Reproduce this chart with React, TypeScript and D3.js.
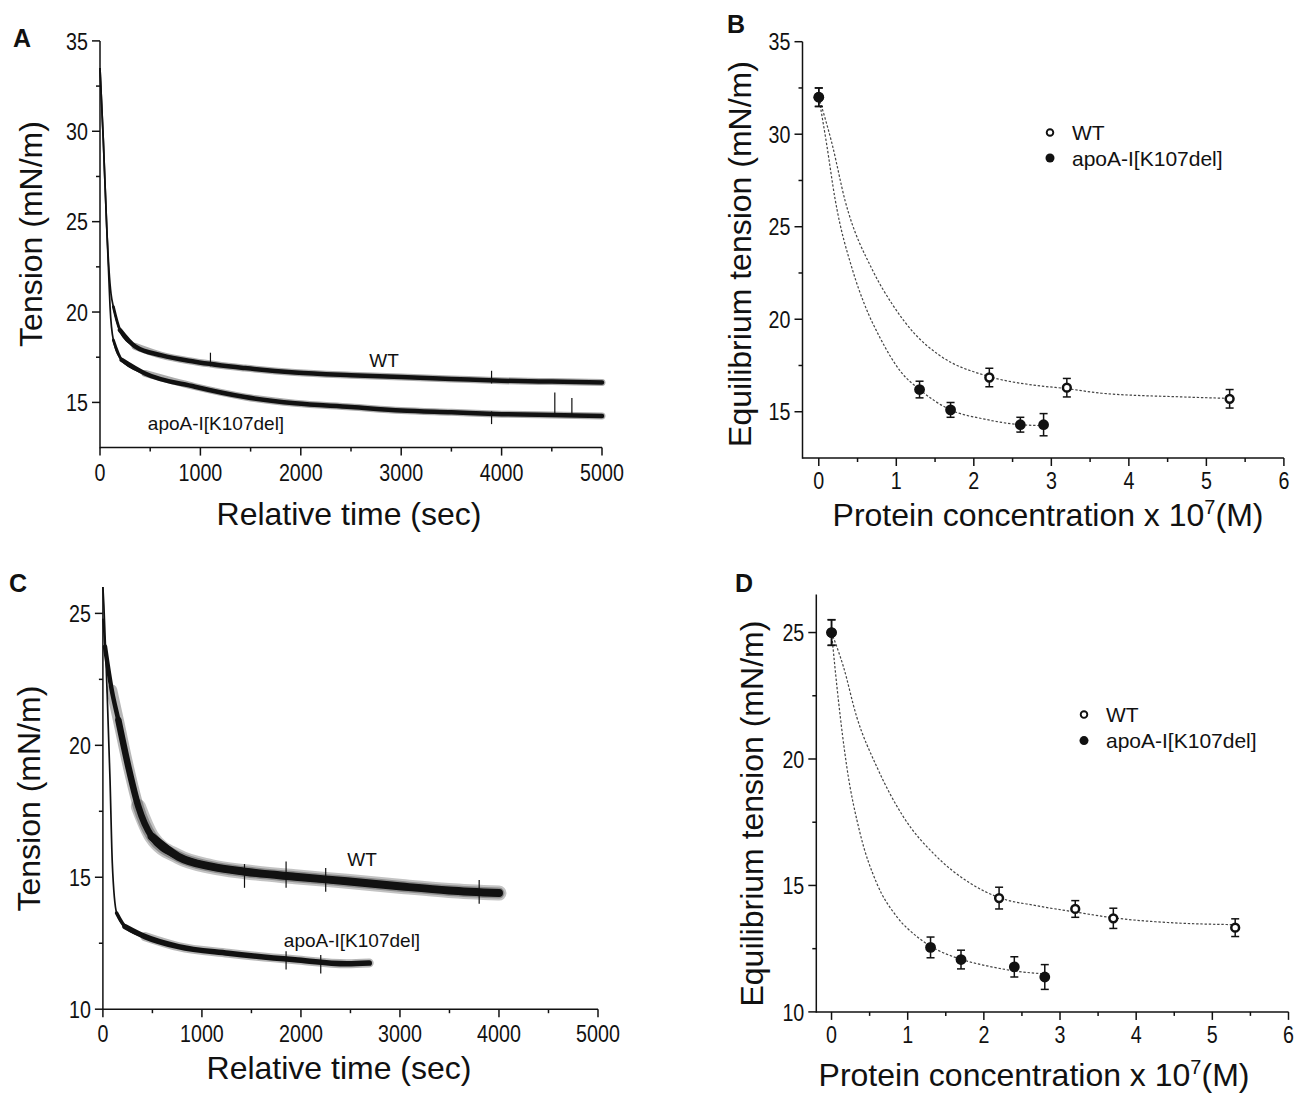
import React from "react";
import * as d3 from "d3";

type Pt = [number, number];

const traceA_WT: Pt[] = [
  [0, 33.5], [33, 29.5], [67, 24.7], [90, 22.3], [110, 21.0], [133, 20.3], [199, 19.0],
  [349, 18.1], [614, 17.6], [946, 17.25], [1444, 16.9], [1942, 16.65], [2500, 16.5],
  [3000, 16.4], [3500, 16.3], [4000, 16.2], [4500, 16.15], [5000, 16.1],
];
const traceA_K107: Pt[] = [
  [0, 33.5], [33, 29.5], [67, 24.7], [85, 22.3], [100, 20.3], [133, 18.45], [216, 17.35],
  [448, 16.6], [946, 15.87], [1444, 15.3], [1942, 14.95], [2500, 14.75], [3000, 14.55],
  [3500, 14.45], [4000, 14.35], [4500, 14.3], [5000, 14.25],
];
// spikes sticking out of the noisy traces: [time, low, high]
const spikesA_WT = [[1100, 17.0, 17.75], [3900, 16.05, 16.75]];
const spikesA_K107 = [[3900, 13.8, 14.5], [4530, 14.3, 15.55], [4700, 14.3, 15.25]];

const traceC_WT: Pt[] = [
  [0, 24.8], [21, 23.74], [89, 22.1], [156, 20.96], [257, 19.19], [358, 17.68], [493, 16.54],
  [762, 15.78], [1099, 15.4], [1435, 15.21], [1940, 15.02], [2465, 14.85], [3020, 14.65],
  [3495, 14.5], [4000, 14.4],
];
const traceC_K107: Pt[] = [
  [0, 26.0], [10, 25.3], [38, 22.48], [72, 18.7], [95, 15.53], [139, 13.64], [223, 13.13],
  [425, 12.75], [762, 12.37], [1267, 12.12], [1940, 11.87], [2465, 11.72], [2690, 11.75],
];
const spikesC_WT = [[1430, 14.6, 15.5], [1850, 14.6, 15.6], [2250, 14.45, 15.35], [3800, 14.0, 14.9]];
const spikesC_K107 = [[1850, 11.5, 12.2], [2200, 11.35, 12.05]];

// ---- equilibrium tension vs protein concentration (x 10^7 M)
const concB_WT = [0, 2.2, 3.2, 5.3];
const tensB_WT = [32.0, 16.85, 16.3, 15.7];
const errB_WT = [0.5, 0.5, 0.5, 0.5];
const concB_K107 = [0, 1.3, 1.7, 2.6, 2.9];
const tensB_K107 = [32.0, 16.2, 15.1, 14.3, 14.3];
const errB_K107 = [0.5, 0.45, 0.4, 0.4, 0.6];

const concD_WT = [0, 2.2, 3.2, 3.7, 5.3];
const tensD_WT = [25.0, 14.5, 14.07, 13.7, 13.33];
const errD_WT = [0.5, 0.43, 0.33, 0.4, 0.35];
const concD_K107 = [0, 1.3, 1.7, 2.4, 2.8];
const tensD_K107 = [25.0, 12.55, 12.07, 11.78, 11.38];
const errD_K107 = [0.51, 0.41, 0.37, 0.4, 0.49];

// fitted decay curves
const fitB_WT: Pt[] = [
  [0, 32], [0.17, 29.5], [0.34, 26.4], [0.7, 22.6], [0.95, 20.8], [1.24, 19.2], [1.54, 18.1],
  [2.2, 16.9], [2.75, 16.45], [3.2, 16.25], [3.65, 16.0], [4.7, 15.8], [5.3, 15.72],
];
const fitB_K107: Pt[] = [
  [0, 32], [0.1, 29.5], [0.21, 26.5], [0.44, 22.6], [0.59, 20.8], [0.79, 19.0], [1.07, 17.1],
  [1.3, 16.2], [1.7, 15.1], [2.14, 14.6], [2.6, 14.3], [2.9, 14.25],
];
const fitD_WT: Pt[] = [
  [0, 25], [0.156, 23.65], [0.33, 21.67], [0.593, 19.7], [0.942, 17.72], [1.38, 16.14],
  [1.82, 15.09], [2.2, 14.52], [2.69, 14.2], [3.2, 13.95], [3.7, 13.72], [4.5, 13.52], [5.3, 13.45],
];
const fitD_K107: Pt[] = [
  [0, 25], [0.09, 22.33], [0.2, 19.7], [0.375, 17.06], [0.593, 15.09], [0.856, 13.77],
  [1.12, 12.98], [1.3, 12.6], [1.7, 12.08], [2.04, 11.82], [2.4, 11.62], [2.8, 11.5],
];

const timeTicks = [0, 1000, 2000, 3000, 4000, 5000];
const concTicks = [0, 1, 2, 3, 4, 5, 6];
const tensionTicksAB = [15, 20, 25, 30, 35];
const tensionTicksCD = [10, 15, 20, 25];
const seriesNames = ["WT", "apoA-I[K107del]"];

const textFont = "'Liberation Sans', Arial, Helvetica, sans-serif";
const ink = "#111";

type Lin = d3.ScaleLinear<number, number>;

// tick numbers in the figure are a condensed face, squeeze a regular one
const Num = ({ x, y, anchor, children, dy }: any) => (
  <text transform={`translate(${x},${y}) scale(0.82,1)`} dy={dy} textAnchor={anchor} stroke="none"
    fill={ink} fontFamily={textFont} fontSize={24}>{children}</text>
);

function Axes({ x, y, xTicks, xMinor, yTicks, yMinor, xLabelDy }: {
  x: Lin; y: Lin; xTicks: number[]; xMinor: number[]; yTicks: number[]; yMinor: number[]; xLabelDy: number;
}) {
  const [x0, x1] = x.range();
  const [y0, y1] = y.range();
  return (
    <g stroke={ink} strokeWidth={1.5}>
      <line x1={x0} x2={x1} y1={y0} y2={y0} />
      <line x1={x0} x2={x0} y1={y0 + 0.75} y2={y1} />
      {xTicks.map(t => (
        <g key={"xt" + t}>
          <line x1={x(t)} x2={x(t)} y1={y0} y2={y0 + 8} />
          <Num x={x(t)} y={y0 + xLabelDy} anchor="middle">{t}</Num>
        </g>
      ))}
      {xMinor.map(t => <line key={"xm" + t} x1={x(t)} x2={x(t)} y1={y0} y2={y0 + 4} />)}
      {yTicks.map(t => (
        <g key={"yt" + t}>
          <line x1={x0 - 8} x2={x0} y1={y(t)} y2={y(t)} />
          <Num x={x0 - 12} y={y(t)} dy="0.36em" anchor="end">{t}</Num>
        </g>
      ))}
      {yMinor.map(t => <line key={"ym" + t} x1={x0 - 4} x2={x0} y1={y(t)} y2={y(t)} />)}
    </g>
  );
}

function Titles({ letter, lx, ly, xTitle, xtx, xty, yTitle, ytx, yty }: any) {
  return (
    <g fill={ink}>
      <text x={lx} y={ly} fontFamily={textFont} fontWeight="bold" fontSize={25}>{letter}</text>
      <text x={xtx} y={xty} textAnchor="middle" fontFamily={textFont} fontSize={32}>{xTitle}</text>
      <text transform={`translate(${ytx},${yty}) rotate(-90)`} dy="0.36em" textAnchor="middle"
        fontFamily={textFont} fontSize={32}>{yTitle}</text>
    </g>
  );
}

function TracePanel({ letter, box, yDomain, yTicks, yMinor, traces, labels, titlePos }: any) {
  const x = d3.scaleLinear().domain([0, 5000]).range([box.left, box.right]);
  const y = d3.scaleLinear().domain(yDomain).range([box.bottom, box.top]);
  const line = d3.line<Pt>().x(d => x(d[0])).y(d => y(d[1])).curve(d3.curveMonotoneX);
  return (
    <g>
      {traces.map((tr: any, i: number) => (
        <g key={i} fill="none" stroke={ink}>
          {(tr.fuzz || []).map(([from, w, op]: number[], j: number) => (
            <path key={"f" + j} d={line(tr.data.filter((d: Pt) => d[0] >= from)) || ""} strokeWidth={w}
              strokeOpacity={op} strokeLinecap="round" strokeLinejoin="round" />
          ))}
          <path d={line(tr.data) || ""} strokeWidth={1.7} />
          {tr.bands.map(([from, w]: number[], j: number) => (
            <path key={j} d={line(tr.data.filter((d: Pt) => d[0] >= from)) || ""} strokeWidth={w}
              strokeLinecap="round" strokeLinejoin="round" />
          ))}
          {tr.spikes.map((s: number[], j: number) => (
            <line key={j} x1={x(s[0])} x2={x(s[0])} y1={y(s[1])} y2={y(s[2])} strokeWidth={1.2} />
          ))}
        </g>
      ))}
      {labels.map((l: any, i: number) => (
        <text key={i} x={l.x} y={l.y} dy="0.36em" textAnchor="middle" fontFamily={textFont}
          fontSize={19} fill={ink}>{l.text}</text>
      ))}
      <Axes x={x} y={y} xTicks={timeTicks} xMinor={d3.range(500, 5000, 1000)}
        yTicks={yTicks} yMinor={yMinor} xLabelDy={33} />
      <Titles letter={letter} {...titlePos} xTitle="Relative time (sec)" yTitle="Tension (mN/m)" />
    </g>
  );
}

function ErrPoints({ x, y, conc, tens, err, open }: any) {
  return (
    <g>
      {conc.map((c: number, i: number) => {
        const cx = x(c), cy = y(tens[i]);
        const top = y(tens[i] + err[i]), bot = y(tens[i] - err[i]);
        return (
          <g key={i} stroke={ink} strokeWidth={1.5}>
            <line x1={cx} x2={cx} y1={top} y2={bot} />
            <line x1={cx - 4} x2={cx + 4} y1={top} y2={top} />
            <line x1={cx - 4} x2={cx + 4} y1={bot} y2={bot} />
            {open
              ? <circle cx={cx} cy={cy} r={3.9} fill="#fff" strokeWidth={2.5} />
              : <circle cx={cx} cy={cy} r={5.4} fill={ink} stroke="none" />}
          </g>
        );
      })}
    </g>
  );
}

function ConcPanel({ letter, box, xDomain, yDomain, yTicks, yMinor, wt, k107, fits, legend, titlePos }: any) {
  const x = d3.scaleLinear().domain(xDomain).range([box.left, box.right]);
  const y = d3.scaleLinear().domain(yDomain).range([box.bottom, box.top]);
  const line = d3.line<Pt>().x(d => x(d[0])).y(d => y(d[1])).curve(d3.curveMonotoneX);
  return (
    <g>
      {fits.map((f: Pt[], i: number) => (
        <path key={i} d={line(f) || ""} fill="none" stroke="#444" strokeWidth={1.2} strokeDasharray="2.4,1.8" />
      ))}
      <ErrPoints x={x} y={y} {...wt} open />
      <ErrPoints x={x} y={y} {...k107} />
      <g fontFamily={textFont} fontSize={21} fill={ink}>
        <circle cx={legend.x} cy={legend.y} r={3.3} fill="#fff" stroke={ink} strokeWidth={1.9} />
        <text x={legend.x + 22} y={legend.y} dy="0.36em">{seriesNames[0]}</text>
        <circle cx={legend.x} cy={legend.y + legend.gap} r={4.5} fill={ink} />
        <text x={legend.x + 22} y={legend.y + legend.gap} dy="0.36em">{seriesNames[1]}</text>
      </g>
      <Axes x={x} y={y} xTicks={concTicks} xMinor={d3.range(0.5, 6, 1)}
        yTicks={yTicks} yMinor={yMinor} xLabelDy={31} />
      <Titles letter={letter} {...titlePos}
        xTitle={<>Protein concentration x 10<tspan dy="-12" fontSize={20}>7</tspan><tspan dy="12">(M)</tspan></>}
        yTitle="Equilibrium tension (mN/m)" />
    </g>
  );
}

export default function App() {
  return (
    <svg width={1297} height={1095} style={{ position: "absolute", left: 0, top: 0, background: "#fff" }}>
      <TracePanel letter="A" box={{ left: 100, right: 602, top: 40.9, bottom: 447.6 }}
        yDomain={[12.5, 35]} yTicks={tensionTicksAB} yMinor={[17.5, 22.5, 27.5, 32.5]}
        traces={[
          { data: traceA_WT, bands: [[125, 2.8], [190, 4.5]], fuzz: [[300, 7, 0.35]], spikes: spikesA_WT },
          { data: traceA_K107, bands: [[105, 2.8], [170, 4.5]], fuzz: [[250, 7, 0.35]], spikes: spikesA_K107 },
        ]}
        labels={[{ x: 384, y: 360, text: seriesNames[0] }, { x: 216, y: 423, text: seriesNames[1] }]}
        titlePos={{ lx: 13, ly: 47, xtx: 349, xty: 525, ytx: 30.6, yty: 234 }} />
      <ConcPanel letter="B" box={{ left: 802.5, right: 1283.9, top: 41.7, bottom: 458 }}
        xDomain={[-0.21, 6]} yDomain={[12.5, 35]} yTicks={tensionTicksAB} yMinor={[17.5, 22.5, 27.5, 32.5]}
        wt={{ conc: concB_WT, tens: tensB_WT, err: errB_WT }}
        k107={{ conc: concB_K107, tens: tensB_K107, err: errB_K107 }}
        fits={[fitB_WT, fitB_K107]} legend={{ x: 1050, y: 132.5, gap: 25.5 }}
        titlePos={{ lx: 727, ly: 33, xtx: 1048, xty: 526, ytx: 739.6, yty: 254 }} />
      <TracePanel letter="C" box={{ left: 102.9, right: 598, top: 587, bottom: 1009.2 }}
        yDomain={[10, 26]} yTicks={tensionTicksCD} yMinor={[12.5, 17.5, 22.5]}
        traces={[
          { data: traceC_WT, bands: [[15, 4.5], [120, 6.5], [400, 8]], fuzz: [[60, 11, 0.3], [350, 15, 0.25]], spikes: spikesC_WT },
          { data: traceC_K107, bands: [[130, 3.5], [220, 5.5]], fuzz: [[250, 9, 0.3]], spikes: spikesC_K107 },
        ]}
        labels={[{ x: 362, y: 859.5, text: seriesNames[0] }, { x: 352, y: 940, text: seriesNames[1] }]}
        titlePos={{ lx: 9, ly: 592, xtx: 339, xty: 1079, ytx: 28.6, yty: 798.6 }} />
      <ConcPanel letter="D" box={{ left: 816.3, right: 1288.5, top: 594.6, bottom: 1011.9 }}
        xDomain={[-0.2, 6]} yDomain={[10, 26.5]} yTicks={tensionTicksCD} yMinor={[12.5, 17.5, 22.5]}
        wt={{ conc: concD_WT, tens: tensD_WT, err: errD_WT }}
        k107={{ conc: concD_K107, tens: tensD_K107, err: errD_K107 }}
        fits={[fitD_WT, fitD_K107]} legend={{ x: 1084, y: 714.6, gap: 26 }}
        titlePos={{ lx: 735, ly: 592, xtx: 1034, xty: 1086, ytx: 751, yty: 813.6 }} />
    </svg>
  );
}
